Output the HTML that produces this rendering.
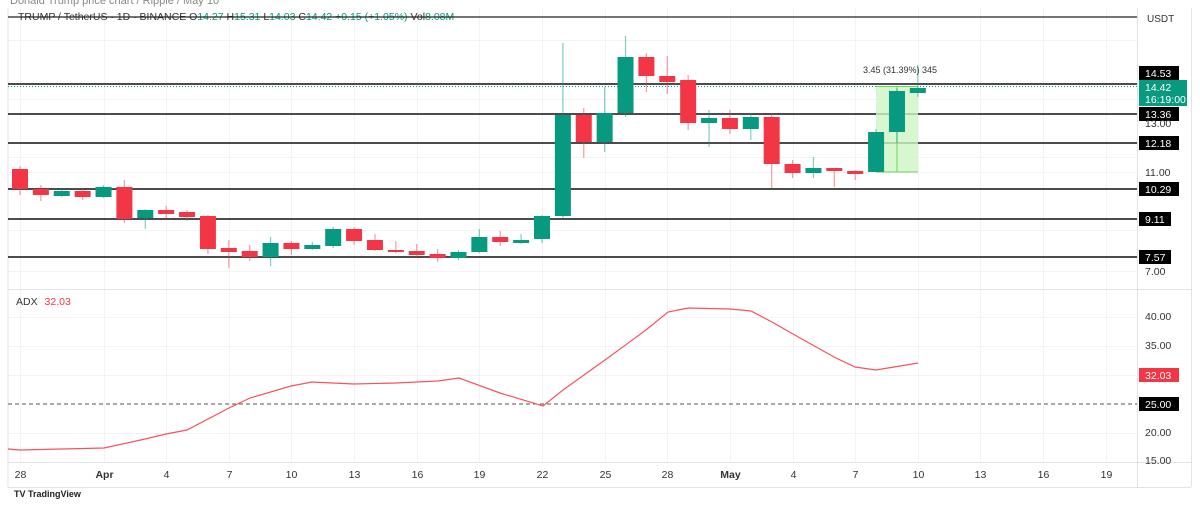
<!DOCTYPE html>
<html><head><meta charset="utf-8"><style>
body{margin:0;background:#fff;width:1200px;height:500px;overflow:hidden;font-family:"Liberation Sans",sans-serif}
svg text{font-family:"Liberation Sans",sans-serif}
</style></head><body>
<svg id="s" width="1200" height="500" xmlns="http://www.w3.org/2000/svg">
<rect width="1200" height="500" fill="#fff"/>
<text x="10" y="4" font-size="11" fill="#888">Donald Trump price chart / Ripple / May 10</text>
<g id="grid" stroke="#f2f3f5" stroke-width="1"></g>
<line x1="8" y1="289.5" x2="1191" y2="289.5" stroke="#e0e3eb"/>
<line x1="8" y1="462.5" x2="1191" y2="462.5" stroke="#e0e3eb"/>
<line x1="1137.5" y1="8" x2="1137.5" y2="487" stroke="#e0e3eb"/>
<line x1="1191.5" y1="8" x2="1191.5" y2="487" stroke="#e0e3eb"/>
<line x1="8" y1="487.5" x2="1191" y2="487.5" stroke="#e0e3eb"/>
<line x1="8" y1="8" x2="8" y2="487" stroke="#e0e3eb"/>
<g id="hl"></g>
<rect x="876" y="86" width="42" height="86" fill="#ccf5c4" opacity="0.8"/>
<line x1="876" y1="86.5" x2="918" y2="86.5" stroke="#6bd65a"/>
<line x1="876" y1="172" x2="918" y2="172" stroke="#6bd65a"/>
<line x1="897" y1="86" x2="897" y2="172" stroke="#6bd65a"/>
<g id="c"></g>
<text x="863" y="73" font-size="9" fill="#333">3.45 (31.39%) 345</text>
<text x="18" y="20" font-size="10.5" fill="#333">TRUMP / TetherUS · 1D · BINANCE  <tspan fill="#333">O</tspan><tspan fill="#089981">14.27</tspan> <tspan fill="#333">H</tspan><tspan fill="#089981">15.31</tspan> <tspan fill="#333">L</tspan><tspan fill="#089981">14.03</tspan> <tspan fill="#333">C</tspan><tspan fill="#089981">14.42  +0.15 (+1.05%)</tspan>  Vol<tspan fill="#089981">8.08M</tspan></text>
<line x1="8" y1="17" x2="1137" y2="17" stroke="#222" stroke-width="1.2"/>
<text x="1147" y="22" font-size="10" fill="#333">USDT</text>
<g id="ax" font-size="10.5"></g>
<text x="16" y="305" font-size="10.5" fill="#333">ADX <tspan fill="#f23645" dx="4">32.03</tspan></text>
<line x1="8" y1="404" x2="1137" y2="404" stroke="#555" stroke-dasharray="4,3"/>
<polyline fill="none" stroke="#f7525f" stroke-width="1.2" points="8,449 20,450 62,449 104,448 145,439 166,434 187,430 229,408 250,398 291,386 312,382 354,384 396,383 438,381 459,378 500,393 543,406 563,390 605,360 646,330 668,312 688,308 730,309 751,311 772,322 793,334 834,357 855,367 876,370 918,363"/>
<rect x="1139" y="368" width="40" height="14" fill="#f23645"/><text x="1145" y="379" font-size="10.5" fill="#fff">32.03</text>
<rect x="1139" y="397" width="40" height="14" fill="#000"/><text x="1145" y="408" font-size="10.5" fill="#fff">25.00</text>
<text x="14" y="497" font-size="9" font-weight="bold" fill="#222">TV TradingView</text>
</svg>
<script>
const NS="http://www.w3.org/2000/svg";
function el(p,t,a,txt){const e=document.createElementNS(NS,t);for(const k in a)e.setAttribute(k,a[k]);if(txt)e.textContent=txt;document.getElementById(p).appendChild(e);return e;}
const X=i=>20+i*20.88;
const labs=[[0,"28"],[4,"Apr"],[7,"4"],[10,"7"],[13,"10"],[16,"13"],[19,"16"],[22,"19"],[25,"22"],[28,"25"],[31,"28"],[34,"May"],[37,"4"],[40,"7"],[43,"10"],[46,"13"],[49,"16"],[52,"19"]];
labs.forEach(([i,t])=>{const x=Math.round(X(i))+.5;el("grid","line",{x1:x,y1:8,x2:x,y2:462});
 const tt=el("ax","text",{x:x,y:478,"text-anchor":"middle",fill:"#333"},t);if(t==="Apr"||t==="May")tt.setAttribute("font-weight","bold");});
[40,99,157,172,230,271,317,346,375,433].forEach(y=>el("grid","line",{x1:8,y1:y+.5,x2:1137,y2:y+.5}));
[[13.0,127],[11.0,176],[7.0,275]].forEach(([v,y])=>el("ax","text",{x:1145,y:y,fill:"#333"},v.toFixed(2)));
[[40,320],[35,349],[30,378],[20,436],[15,464]].forEach(([v,y])=>el("ax","text",{x:1145,y:y,fill:"#333"},v.toFixed(2)));
[[14.53,84,73],[13.36,114,114],[12.18,143,143],[10.29,189,189],[9.11,219,219],[7.57,257,257]].forEach(([v,y,ly])=>{
 el("hl","line",{x1:8,y1:y,x2:1137,y2:y,stroke:"#111","stroke-width":1.5});
 el("hl","rect",{x:1139,y:ly-7,width:v<10?32:40,height:14,fill:"#000"});
 el("hl","text",{x:1145,y:ly+4,"font-size":"10.5",fill:"#fff"},v.toFixed(2));});
el("hl","line",{x1:8,y1:86.5,x2:1137,y2:86.5,stroke:"#089981","stroke-dasharray":"1,2"});
el("hl","rect",{x:1139,y:80,width:48,height:26,fill:"#089981"});
el("hl","text",{x:1145,y:91,"font-size":"10.5",fill:"#fff"},"14.42");
el("hl","text",{x:1145,y:103,"font-size":"10.5",fill:"#fff"},"16:19:00");
const C=[[0,169,189,166,195],[0,189,195,185,201],[1,191,196,190,197],[0,191,197,189,200],[1,187,197,185,198],[0,187,219,180,223],[1,210,218,209,229],[0,210,214,206,219],[0,212,217,210,221],[0,216,249,215,254],[0,248,252,240,268],[0,251,257,245,261],[1,243,257,237,266],[0,243,249,241,255],[1,245,249,242,250],[1,229,246,227,248],[0,229,241,227,245],[0,240,250,234,251],[0,250,252,241,253],[0,251,255,244,257],[0,254,258,249,262],[1,252,258,250,260],[1,237,252,229,253],[0,237,242,231,246],[1,240,243,234,244],[1,216,239,215,243],
[1,115,216,43,218],[0,115,142,108,158],[1,113,142,87,152],[1,57,113,36,117],[0,57,76,53,92],[0,76,82,56,94],[0,80,123,75,130],[1,118,123,110,147],[0,118,129,110,134],[1,117,129,113,140],[0,117,164,113,188],[0,164,173,160,178],[1,168,173,157,178],[0,168,171,168,187],[0,171,174,170,180],[1,132,172,129,172],[1,91,132,88,143],[1,88,93,65,97]];
C.forEach((c,i)=>{const x=X(i),col=c[0]?"#089981":"#f23645";
 el("c","line",{x1:x,y1:c[3],x2:x,y2:c[4],stroke:col,"stroke-opacity":0.5,"stroke-width":1.2});
 el("c","rect",{x:x-8,y:c[1],width:16,height:Math.max(2,c[2]-c[1]),fill:col});});
</script>
</body></html>
